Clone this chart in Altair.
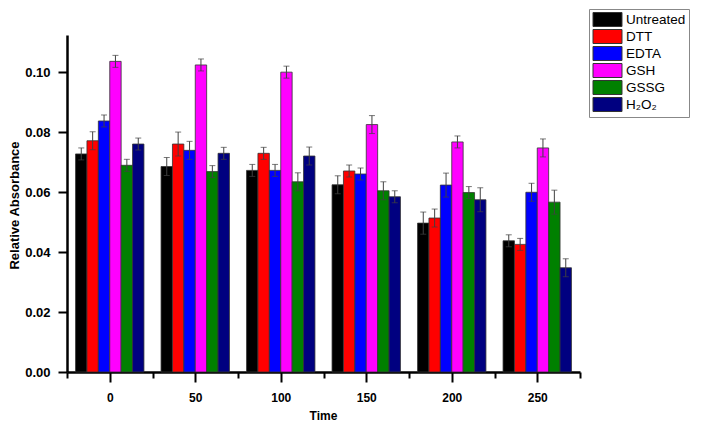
import altair as alt
import pandas as pd

# ---- data ----
times = [0, 50, 100, 150, 200, 250]
series = ["Untreated", "DTT", "EDTA", "GSH", "GSSG", "H₂O₂"]
colors = ["#000000", "#ff0000", "#0000ff", "#ff00ff", "#008000", "#000080"]

untreated = [0.0728, 0.0686, 0.0673, 0.0625, 0.0497, 0.0438]
dtt       = [0.0772, 0.0761, 0.0730, 0.0671, 0.0514, 0.0426]
edta      = [0.0838, 0.0740, 0.0673, 0.0661, 0.0624, 0.0600]
gsh       = [0.1037, 0.1025, 0.1001, 0.0826, 0.0768, 0.0748]
gssg      = [0.0690, 0.0669, 0.0635, 0.0605, 0.0599, 0.0567]
h2o2      = [0.0761, 0.0730, 0.0721, 0.0585, 0.0575, 0.0348]

err_untreated = [0.0020, 0.0030, 0.0020, 0.0030, 0.0037, 0.0020]
err_dtt       = [0.0030, 0.0040, 0.0020, 0.0020, 0.0030, 0.0020]
err_edta      = [0.0020, 0.0030, 0.0020, 0.0020, 0.0040, 0.0030]
err_gsh       = [0.0020, 0.0020, 0.0020, 0.0030, 0.0020, 0.0030]
err_gssg      = [0.0020, 0.0020, 0.0030, 0.0030, 0.0020, 0.0040]
err_h2o2      = [0.0020, 0.0020, 0.0030, 0.0020, 0.0040, 0.0030]

y_ticks = [0.00, 0.01, 0.02, 0.03, 0.04, 0.05, 0.06, 0.07, 0.08, 0.09, 0.10, 0.11]
x_ticks = [-25, 0, 25, 50, 75, 100, 125, 150, 175, 200, 225, 250, 275]

values = [untreated, dtt, edta, gsh, gssg, h2o2]
errors = [err_untreated, err_dtt, err_edta, err_gsh, err_gssg, err_h2o2]

group_span = 40.0          # width of one cluster, in time units
bw = group_span / len(series)

rows = []
for si, name in enumerate(series):
    for ti, t in enumerate(times):
        v = values[si][ti]
        e = errors[si][ti]
        c = t + (si - (len(series) - 1) / 2) * bw
        rows.append(dict(time=t, series=name, value=v, err=e,
                         x0=c - bw / 2, x1=c + bw / 2, xc=c,
                         lo=v - e, hi=v + e))
df = pd.DataFrame(rows)

FONT = "Liberation Sans"

xscale = alt.Scale(domain=[-25, 275], nice=False, zero=False)
yscale = alt.Scale(domain=[0, 0.1125], nice=False)

xaxis = alt.Axis(
    values=x_ticks,
    labelExpr="datum.value % 50 == 0 ? datum.label : ''",
    tickSize={"condition": {"test": "datum.value % 50 == 0", "value": 10}, "value": 6},
    tickWidth=2, tickColor="black", domainColor="black", domainWidth=2.5,
    labelFont=FONT, labelFontSize=12, labelFontWeight="bold", labelColor="black",
    labelPadding=10, grid=False,
    titleFont=FONT, titleFontSize=12, titleFontWeight="bold", titleColor="black",
    titleX=256, titleY=43, titleBaseline="middle", titleAlign="center",
)
yaxis = alt.Axis(
    values=y_ticks,
    labelExpr="round(datum.value*100) % 2 == 0 ? format(datum.value, '.2f') : ''",
    tickSize={"condition": {"test": "round(datum.value*100) % 2 == 0", "value": 9}, "value": 5},
    tickWidth=2, tickColor="black", domainColor="black", domainWidth=2.5,
    labelFont=FONT, labelFontSize=13, labelFontWeight="bold", labelColor="black",
    labelPadding=8, grid=False,
    titleFont=FONT, titleFontSize=13, titleFontWeight="bold", titleColor="black",
    titleX=-53, titleY=170, titleAngle=-90, titleBaseline="middle", titleAlign="center",
)

base = alt.Chart(df)

bars = base.mark_bar(stroke="#333333", strokeWidth=0.8).encode(
    x=alt.X("x0:Q", scale=xscale, axis=xaxis, title="Time"),
    x2="x1:Q",
    y=alt.Y("value:Q", scale=yscale, axis=yaxis, title="Relative Absorbance"),
    y2=alt.datum(0),
    color=alt.Color(
        "series:N",
        scale=alt.Scale(domain=series, range=colors),
        title=None,
        legend=alt.Legend(
            orient="none", legendX=522, legendY=-26,
            symbolType="M-2.07,-1L2.07,-1L2.07,1L-2.07,1Z",
            symbolSize=196, symbolStrokeColor="#333333", symbolStrokeWidth=1,
            symbolOpacity=1, symbolOffset=8,
            labelFont=FONT, labelFontSize=13.5, labelColor="black", labelOffset=11,
            rowPadding=-3.3, padding=3, strokeColor="#888888", fillColor="white",
        ),
    ),
)

rules = base.mark_rule(color="#404040", strokeWidth=1).encode(
    x=alt.X("xc:Q", scale=xscale), y=alt.Y("lo:Q", scale=yscale), y2="hi:Q"
)
caps_lo = base.mark_tick(color="#404040", orient="horizontal", size=6, thickness=1).encode(
    x=alt.X("xc:Q", scale=xscale), y=alt.Y("lo:Q", scale=yscale)
)
caps_hi = base.mark_tick(color="#404040", orient="horizontal", size=6, thickness=1).encode(
    x=alt.X("xc:Q", scale=xscale), y=alt.Y("hi:Q", scale=yscale)
)

chart = (
    alt.layer(bars, rules, caps_lo, caps_hi)
    .properties(
        width=513, height=337,
        autosize=alt.AutoSizeParams(type="none"),
        padding={"left": 59, "top": 27, "right": 121, "bottom": 50},
        background="white",
    )
    .configure_view(strokeWidth=0)
)

chart.save("out.html", embed_options={"renderer": "svg", "actions": False})
